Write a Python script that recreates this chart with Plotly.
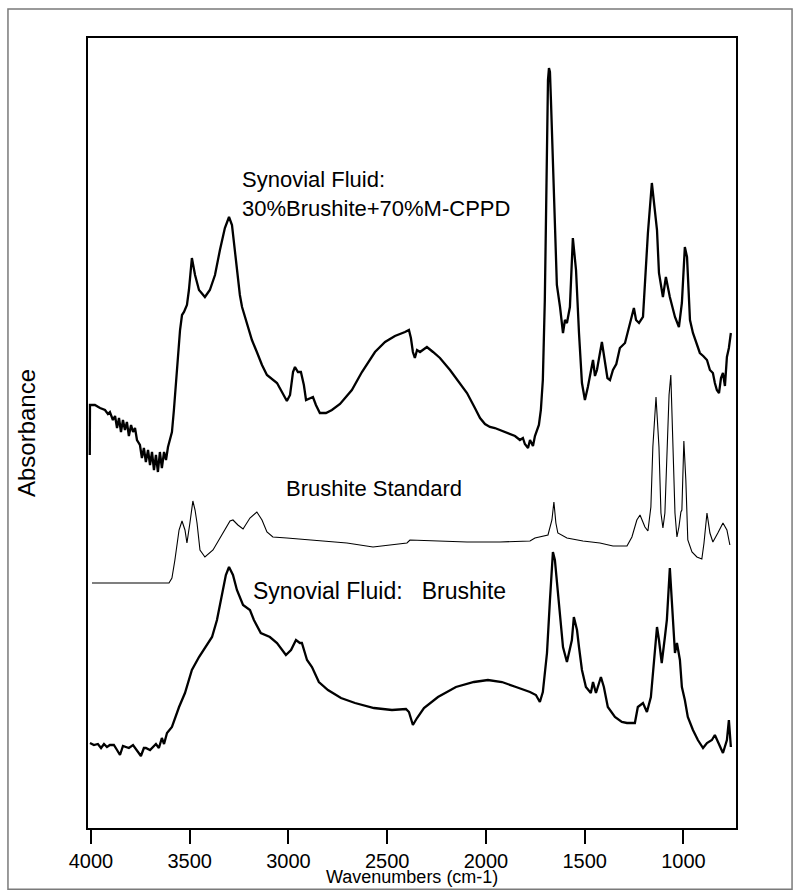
import plotly.graph_objects as go

# wavenumber (cm-1) and absorbance (a.u., stacked offsets)

# synovial fluid: 30% brushite + 70% M-CPPD
mix_wn = [
    4006, 4005, 3980, 3954, 3929, 3914, 3904, 3889, 3878, 3868, 3858, 3848,
    3838, 3828, 3818, 3808, 3797, 3787, 3777, 3767, 3752, 3742, 3732, 3722,
    3711, 3701, 3691, 3681, 3671, 3661, 3651, 3641, 3630, 3620, 3610, 3600,
    3590, 3580, 3570, 3560, 3549, 3539, 3529, 3514, 3504, 3489, 3473, 3453,
    3423, 3398, 3372, 3347, 3322, 3301, 3286, 3266, 3246, 3235, 3210, 3185,
    3160, 3134, 3109, 3084, 3058, 3033, 3008, 2992, 2977, 2967, 2952, 2937,
    2922, 2911, 2896, 2876, 2861, 2841, 2810, 2780, 2739, 2679, 2628, 2562,
    2511, 2461, 2410, 2390, 2380, 2370, 2360, 2349, 2334, 2299, 2268, 2233,
    2182, 2132, 2096, 2056, 2030, 2005, 1980, 1955, 1929, 1904, 1879, 1853,
    1828, 1813, 1803, 1787, 1777, 1762, 1752, 1742, 1732, 1722, 1712, 1702,
    1696, 1691, 1686, 1681, 1676, 1671, 1661, 1651, 1641, 1625, 1610, 1600,
    1590, 1575, 1560, 1544, 1539, 1529, 1514, 1499, 1484, 1470, 1458, 1448,
    1438, 1413, 1398, 1385, 1372, 1357, 1340, 1322, 1296, 1271, 1251, 1240,
    1225, 1205, 1180, 1160, 1134, 1124, 1104, 1089, 1069, 1043, 1023, 1008,
    993, 982, 967, 952, 935, 917, 900, 881, 866, 851, 841, 831,
    820, 810, 800, 790, 780, 770, 760,
]
mix_abs = [
    3.73, 4.23, 4.23, 4.20, 4.18, 4.14, 4.16, 4.08, 4.12, 4.00, 4.10, 3.96,
    4.08, 3.98, 4.06, 3.92, 4.03, 3.96, 4.00, 3.88, 3.83, 3.70, 3.80, 3.66,
    3.78, 3.63, 3.76, 3.58, 3.73, 3.56, 3.76, 3.60, 3.76, 3.68, 3.81, 3.88,
    3.96, 4.18, 4.43, 4.73, 4.98, 5.13, 5.16, 5.23, 5.38, 5.70, 5.53, 5.38,
    5.31, 5.38, 5.53, 5.78, 6.00, 6.11, 6.03, 5.68, 5.33, 5.21, 5.05, 4.88,
    4.76, 4.63, 4.53, 4.49, 4.45, 4.36, 4.27, 4.33, 4.56, 4.61, 4.56, 4.56,
    4.43, 4.28, 4.29, 4.31, 4.23, 4.15, 4.15, 4.18, 4.24, 4.38, 4.56, 4.76,
    4.86, 4.92, 4.96, 4.98, 4.90, 4.76, 4.70, 4.78, 4.76, 4.81, 4.76, 4.70,
    4.58, 4.45, 4.35, 4.20, 4.10, 4.04, 4.01, 4.00, 3.98, 3.96, 3.94, 3.92,
    3.88, 3.90, 3.84, 3.80, 3.88, 3.82, 3.92, 3.98, 4.03, 4.18, 4.48, 5.28,
    6.28, 7.08, 7.48, 7.60, 7.56, 7.28, 6.58, 5.88, 5.43, 5.21, 4.95, 5.08,
    5.05, 5.21, 5.90, 5.58, 5.35, 4.95, 4.45, 4.28, 4.41, 4.55, 4.68, 4.52,
    4.58, 4.86, 4.68, 4.50, 4.48, 4.58, 4.64, 4.80, 4.85, 5.05, 5.20, 5.08,
    5.05, 5.11, 5.95, 6.45, 5.98, 5.55, 5.31, 5.51, 5.31, 5.11, 5.01, 5.25,
    5.81, 5.71, 5.08, 4.95, 4.85, 4.75, 4.72, 4.68, 4.58, 4.55, 4.45, 4.38,
    4.35, 4.50, 4.55, 4.42, 4.71, 4.80, 4.95,
]

# brushite standard
std_wn = [
    3995, 3605, 3590, 3575, 3554, 3539, 3524, 3514, 3499, 3484, 3473, 3463,
    3448, 3423, 3382, 3332, 3296, 3281, 3256, 3230, 3195, 3160, 3134, 3109,
    3079, 3008, 2876, 2704, 2572, 2471, 2400, 2385, 2268, 2096, 1929, 1777,
    1752, 1727, 1686, 1666, 1656, 1646, 1636, 1590, 1509, 1423, 1357, 1286,
    1261, 1236, 1220, 1195, 1180, 1165, 1155, 1139, 1124, 1114, 1104, 1094,
    1084, 1073, 1064, 1054, 1043, 1033, 1023, 1013, 1008, 998, 988, 978,
    957, 932, 907, 896, 881, 866, 851, 826, 800, 780, 765,
]
std_abs = [
    2.45, 2.45, 2.50, 2.68, 2.98, 3.07, 2.98, 2.85, 3.05, 3.27, 3.18, 3.05,
    2.78, 2.71, 2.78, 2.95, 3.07, 3.08, 3.03, 2.99, 3.10, 3.16, 3.08, 2.96,
    2.91, 2.90, 2.88, 2.85, 2.81, 2.83, 2.85, 2.88, 2.87, 2.86, 2.86, 2.87,
    2.90, 2.91, 2.93, 3.08, 3.26, 3.05, 2.95, 2.90, 2.87, 2.85, 2.82, 2.82,
    2.91, 3.08, 3.13, 3.01, 2.97, 3.21, 3.81, 4.31, 3.81, 3.15, 3.00, 3.15,
    3.81, 4.33, 4.53, 3.81, 3.15, 2.91, 3.01, 3.16, 3.18, 3.87, 3.48, 2.88,
    2.76, 2.71, 2.69, 2.85, 3.15, 2.95, 2.86, 2.95, 3.05, 2.98, 2.83,
]

# synovial fluid: brushite
syn_wn = [
    4005, 3985, 3965, 3949, 3934, 3919, 3904, 3884, 3868, 3853, 3838, 3823,
    3808, 3787, 3767, 3747, 3732, 3722, 3701, 3686, 3671, 3656, 3641, 3630,
    3615, 3590, 3554, 3524, 3489, 3453, 3418, 3387, 3362, 3337, 3317, 3301,
    3281, 3261, 3230, 3195, 3175, 3140, 3094, 3058, 3013, 2987, 2962, 2942,
    2932, 2906, 2881, 2846, 2800, 2734, 2663, 2567, 2476, 2405, 2390, 2370,
    2349, 2314, 2243, 2152, 2061, 1990, 1919, 1848, 1777, 1747, 1727, 1712,
    1691, 1676, 1666, 1661, 1651, 1641, 1625, 1610, 1590, 1565, 1555, 1539,
    1529, 1514, 1494, 1469, 1458, 1443, 1418, 1403, 1383, 1347, 1312, 1286,
    1246, 1231, 1205, 1185, 1165, 1155, 1134, 1124, 1110, 1094, 1084, 1069,
    1054, 1043, 1033, 1018, 1008, 993, 978, 952, 927, 901, 881, 856,
    841, 826, 800, 780, 770, 760,
]
syn_abs = [
    0.85, 0.83, 0.84, 0.80, 0.84, 0.81, 0.83, 0.83, 0.78, 0.73, 0.82, 0.81,
    0.80, 0.83, 0.78, 0.72, 0.80, 0.80, 0.78, 0.81, 0.84, 0.80, 0.90, 0.84,
    0.95, 1.01, 1.21, 1.35, 1.58, 1.71, 1.81, 1.91, 2.08, 2.33, 2.53, 2.61,
    2.53, 2.38, 2.23, 2.18, 2.08, 1.95, 1.91, 1.85, 1.73, 1.78, 1.88, 1.85,
    1.85, 1.68, 1.61, 1.46, 1.38, 1.30, 1.25, 1.20, 1.18, 1.19, 1.16, 1.03,
    1.10, 1.20, 1.31, 1.41, 1.46, 1.48, 1.46, 1.41, 1.36, 1.33, 1.26, 1.36,
    1.75, 2.28, 2.68, 2.76, 2.68, 2.48, 2.15, 1.81, 1.66, 1.88, 2.11, 1.98,
    1.81, 1.58, 1.41, 1.35, 1.46, 1.35, 1.51, 1.41, 1.21, 1.11, 1.06, 1.05,
    1.05, 1.21, 1.25, 1.16, 1.31, 1.55, 2.01, 1.88, 1.65, 1.91, 2.08, 2.60,
    2.15, 1.75, 1.85, 1.68, 1.41, 1.28, 1.11, 0.98, 0.88, 0.80, 0.85, 0.88,
    0.93, 0.86, 0.75, 0.88, 1.08, 0.81,
]

x_ticks = [4000, 3500, 3000, 2500, 2000, 1500, 1000]

FONT = 'Liberation Sans, Arial, sans-serif'

fig = go.Figure()

# spectra, thick for the samples and thin for the standard
fig.add_trace(go.Scatter(
    x=mix_wn, y=mix_abs, mode='lines',
    line=dict(color='black', width=2.3),
))
fig.add_trace(go.Scatter(
    x=std_wn, y=std_abs, mode='lines',
    line=dict(color='black', width=1.1),
))
fig.add_trace(go.Scatter(
    x=syn_wn, y=syn_abs, mode='lines',
    line=dict(color='black', width=2.3),
))

# spectrum labels
fig.add_annotation(
    x=0.2346, y=0.8025, xref='paper', yref='paper',
    text='Synovial Fluid:<br>30%Brushite+70%M-CPPD',
    showarrow=False, xanchor='left', yanchor='middle', align='left',
    font=dict(size=22),
)
fig.add_annotation(
    x=0.3025, y=0.43, xref='paper', yref='paper',
    text='Brushite Standard',
    showarrow=False, xanchor='left', yanchor='middle',
    font=dict(size=22),
)
fig.add_annotation(
    x=0.2515, y=0.3006, xref='paper', yref='paper',
    text='Synovial Fluid:\u00a0\u00a0 Brushite',
    showarrow=False, xanchor='left', yanchor='middle',
    font=dict(size=23),
)

# x axis title, placed by hand under the tick labels
fig.add_annotation(
    x=0.5, y=-0.0759, xref='paper', yref='paper',
    text='Wavenumbers (cm-1)',
    showarrow=False, xanchor='center', yanchor='bottom',
    font=dict(size=18), borderpad=0,
)

# grey frame around the whole figure
fig.add_shape(
    type='rect', xref='paper', yref='paper',
    x0=-0.1235, x1=1.0865, y0=-0.0775, y1=1.0367,
    line=dict(color='#7a7a7a', width=1.5),
)

fig.update_xaxes(
    range=[4015, 734],
    tickvals=x_ticks,
    ticks='outside', ticklen=14, tickwidth=1.5, tickcolor='black',
    tickfont=dict(size=20), ticklabelstandoff=0,
    showline=True, mirror=True, linecolor='black', linewidth=2,
    showgrid=False, zeroline=False, automargin=False,
)
fig.update_yaxes(
    range=[0, 7.9],
    showticklabels=False, ticks='',
    showline=True, mirror=True, linecolor='black', linewidth=2,
    showgrid=False, zeroline=False, automargin=False,
    title=dict(text='Absorbance', font=dict(size=24), standoff=44),
)

fig.update_layout(
    width=800, height=891,
    margin=dict(l=88, r=64, t=38, b=63),
    plot_bgcolor='white', paper_bgcolor='white',
    font=dict(family=FONT, color='black', size=20),
    showlegend=False,
)

# drop the default body margin so the figure sits at the page corner
fig.write_html(
    'out.html',
    config={'displayModeBar': False},
    post_script="document.body.style.margin='0px';",
)
